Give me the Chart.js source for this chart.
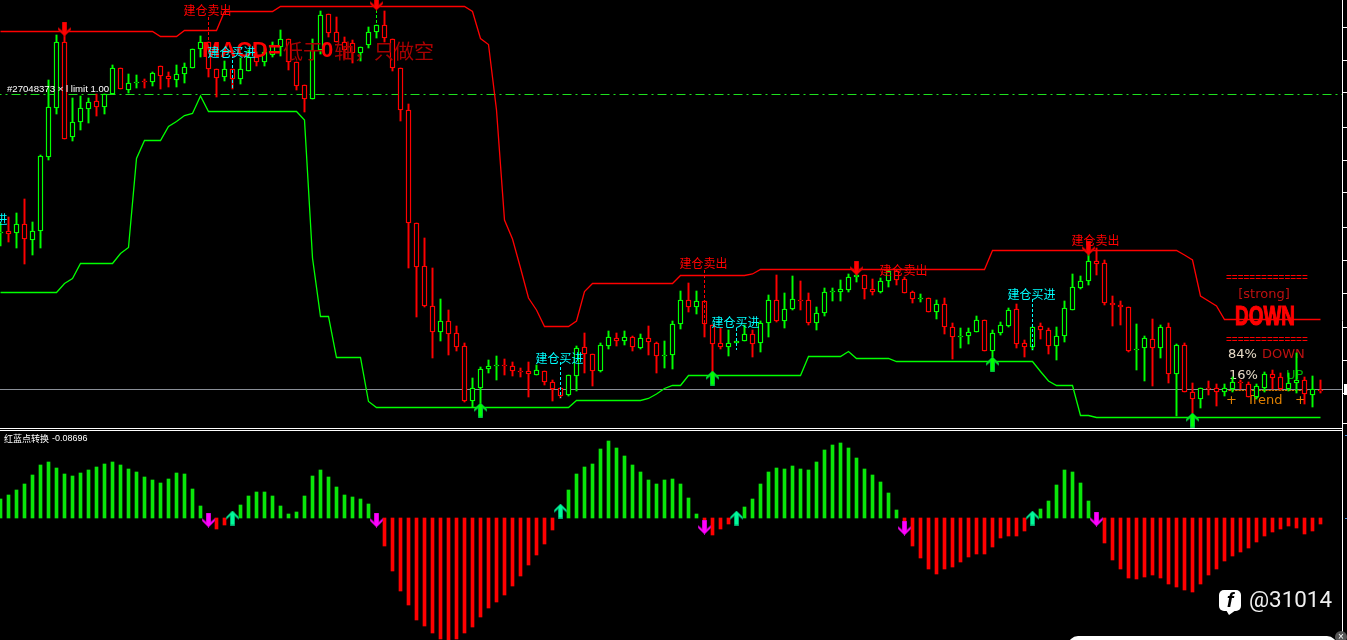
<!DOCTYPE html>
<html>
<head>
<meta charset="utf-8">
<title>MACD</title>
<script src="https://cdn.jsdelivr.net/npm/chart.js@4"></script>
<style>
  html, body { margin: 0; padding: 0; background: #000; overflow: hidden; }
  canvas { display: block; }
</style>
</head>
<body>
<canvas id="Chart" width="1347" height="640"></canvas>
<script>
// candles
const bars = [];
for (let n = 0; n < 166; n++) bars.push(n);

const opens = [
  197,199,197,206,190,199,273,322,388,293,
  308,321,329,323,336,362,340,347,349,348,
  364,354,350,356,362,381,388,361,353,361,
  351,359,373,368,375,383,391,368,345,331,
  380,416,398,388,387,377,385,398,405,391,
  362,320,207,164,124,98,109,97,84,29,
  42,61,64,65,64,59,59,55,59,48,
  42,35,54,83,76,59,84,92,89,93,
  82,92,87,74,75,106,130,123,129,105,
  87,83,87,89,96,87,107,130,109,121,
  130,130,107,117,138,138,140,153,155,141,
  138,149,159,151,138,131,132,118,126,103,
  93,94,98,110,79,97,104,121,87,83,
  104,100,84,94,120,142,149,169,167,127,
  125,123,80,82,91,82,103,56,85,38,
  31,42,42,38,41,48,46,33,42,56,
  53,41,47,50,35,40
];
const closes = [
  198,196,206,191,199,274,323,388,291,308,
  322,328,323,336,362,341,347,348,348,357,
  354,351,356,363,381,388,361,352,361,351,
  361,373,368,378,385,391,368,344,331,380,
  415,397,388,380,377,383,398,405,392,362,
  320,207,163,124,98,109,96,83,29,42,
  61,64,65,64,59,58,56,60,48,41,
  34,55,82,76,59,85,93,89,93,83,
  92,88,74,75,106,130,123,129,106,86,
  83,87,89,96,86,107,130,109,121,131,
  129,107,117,138,139,141,153,155,141,138,
  149,159,150,137,131,132,118,126,103,93,
  94,98,110,79,97,105,120,86,83,103,
  100,84,94,122,143,149,169,166,127,125,
  123,79,81,92,82,103,56,85,38,31,
  42,41,38,42,48,47,33,44,56,52,
  41,47,50,36,41,39
];
const highs = [
  207,213,217,231,208,275,350,395,398,332,
  334,332,336,336,365,362,356,355,351,358,
  364,358,365,367,381,394,388,361,369,361,
  372,380,378,385,388,400,391,368,345,391,
  419,416,413,393,390,383,403,405,419,391,
  362,326,207,192,162,131,120,104,87,52,
  63,70,74,71,68,62,68,65,59,50,
  42,55,84,97,76,87,99,97,99,94,
  96,104,88,89,109,139,147,139,129,105,
  102,100,89,105,100,109,135,155,137,154,
  149,137,123,142,142,150,156,165,155,151,
  152,160,160,153,139,136,132,130,132,107,
  102,102,114,110,100,108,122,126,90,103,
  107,102,103,129,156,154,177,182,170,134,
  129,123,106,94,111,105,107,86,87,47,
  42,49,46,46,53,50,48,46,58,60,
  57,57,77,53,54,50
];
const lows = [
  184,188,182,166,175,182,270,316,291,289,
  300,307,314,316,336,341,337,342,342,344,
  341,343,343,347,362,373,353,333,349,341,
  346,359,364,364,373,374,360,340,318,331,
  376,393,388,372,367,369,382,392,388,359,
  309,162,113,123,72,89,75,79,28,23,
  27,57,50,55,54,53,33,55,45,29,
  32,34,39,57,44,58,81,84,85,79,
  81,75,57,62,61,101,118,116,93,58,
  81,74,87,89,73,78,93,108,102,120,
  120,105,100,114,129,129,138,148,131,135,
  137,143,145,137,127,128,118,111,96,71,
  82,86,98,79,73,95,103,82,73,80,
  91,76,70,88,120,141,145,155,125,104,
  105,78,60,49,44,72,47,14,38,17,
  22,35,24,34,38,41,33,31,38,41,
  40,39,37,26,23,37
];

// channel lines
const upperBand = [
  398.5,398.5,398.5,398.5,398.5,398.5,398.5,398.5,398.5,398.5,
  398.5,398.5,398.5,398.5,398.5,398.5,398.5,398.5,398.5,398.5,
  393.5,393.5,393.5,399.5,399.5,399.5,399.5,399.5,418.5,418.5,
  418.5,418.5,418.5,418.5,418.5,423.5,423.5,423.5,423.5,423.5,
  423.5,423.5,423.5,423.5,423.5,423.5,423.5,423.5,423.5,423.5,
  423.5,423.5,423.5,423.5,423.5,423.5,423.5,423.5,423.5,418.5,
  391.5,385.5,320,210,191,162,132,120,103.5,103.5,
  103.5,103.5,109,138.5,146.5,146.5,146.5,146.5,146.5,146.5,
  146.5,146.5,146.5,146.5,146.5,154.5,154.5,154.5,154.5,154.5,
  154.5,154.5,154.5,154.5,156,160.5,160.5,160.5,160.5,160.5,
  160.5,160.5,160.5,160.5,160.5,160.5,160.5,160.5,160.5,160.5,
  160.5,160.5,160.5,160.5,160.5,160.5,160.5,160.5,160.5,160.5,
  160.5,160.5,160.5,160.5,179.5,179.5,179.5,179.5,179.5,179.5,
  179.5,179.5,179.5,179.5,179.5,179.5,179.5,179.5,179.5,179.5,
  179.5,179.5,179.5,179.5,179.5,179.5,179.5,179.5,175,170,
  134,129,124,110.5,110.5,110.5,110.5,110.5,110.5,110.5,
  110.5,110.5,110.5,110.5,110.5,110.5
];
const lowerBand = [
  137.5,137.5,137.5,137.5,137.5,137.5,137.5,137.5,146.5,151.5,
  166.5,166.5,166.5,166.5,166.5,176.5,182.5,271.5,289.5,289.5,
  289.5,303.5,308.5,314.5,316.5,334,318.5,318.5,318.5,318.5,
  318.5,318.5,318.5,318.5,318.5,318.5,318.5,318.5,310,172,
  113.5,113.5,72.5,72.5,72.5,72.5,28.5,22.5,22.5,22.5,
  22.5,22.5,22.5,22.5,22.5,22.5,22.5,22.5,22.5,22.5,
  22.5,22.5,22.5,22.5,22.5,22.5,22.5,22.5,22.5,22.5,
  22.5,22.5,29.5,29.5,29.5,29.5,29.5,29.5,29.5,29.5,
  29.5,31.5,36,41.5,44.5,44.5,54.5,54.5,54.5,54.5,
  54.5,54.5,54.5,54.5,54.5,54.5,54.5,54.5,54.5,54.5,
  54.5,73.5,73.5,73.5,73.5,73.5,78.5,71.5,71.5,71.5,
  71.5,71.5,68.5,68.5,68.5,68.5,68.5,68.5,68.5,68.5,
  68.5,68.5,68.5,68.5,68.5,68.5,68.5,68.5,68.5,68.5,
  58.5,49,44.5,44.5,44.5,14.5,14.5,12.5,12.5,12.5,
  12.5,12.5,12.5,12.5,12.5,12.5,12.5,12.5,12.5,12.5,
  12.5,12.5,12.5,12.5,12.5,12.5,12.5,12.5,12.5,12.5,
  12.5,12.5,12.5,12.5,12.5,12.5
];

// lower pane histogram
const histogram = [
  19,23,28,34,43,53,56,50,44,42,
  45,48,51,54,56,53,49,46,41,38,
  35,39,45,44,29,12,-3,-11,-7,6,
  13,22,26,26,22,12,4,6,22,42,
  48,41,31,23,21,19,14,-3,-28,-53,
  -73,-87,-102,-108,-115,-121,-125,-121,-115,-109,
  -99,-90,-84,-77,-68,-58,-47,-37,-26,-12,
  3,28,44,51,54,69,77,70,62,53,
  46,38,34,38,39,34,20,4,-3,-17,
  -11,-6,3,11,19,34,46,50,49,52,
  49,48,56,68,73,75,70,60,49,43,
  36,25,8,-3,-28,-40,-51,-56,-51,-49,
  -44,-39,-36,-36,-29,-20,-18,-18,-13,2,
  9,17,33,48,46,35,17,-3,-25,-42,
  -51,-60,-61,-59,-57,-60,-66,-69,-72,-74,
  -66,-57,-51,-43,-38,-34,-30,-24,-18,-14,
  -11,-8,-10,-16,-13,-6
];

// levels and ticks of the price pane
const orderLevel = 335.5;
const bidLevel = 40.5;
const paneEdges = [1.5, -0.5];
const priceTicks = [403,370,337,303,270,237,203,170,137,103,70,37,7];

// arrows
const sellBars = [8,47,107,136];
const sellPrices = [401,427,162,182];
const buyBars = [60,89,124,149];
const buyPrices = [20,52,66,10];
const turnDownBars = [26,47,88,113,137];
const turnDownValues = [-2,-2,-9,-10,-1];
const turnUpBars = [29,70,92,129];
const turnUpValues = [0,7,0,0];

// dashed signal connectors
const signalBars = [26,29,47,70,88,92,129];
const signalTops = [413,375,420,68,160,102,131];
const signalBottoms = [388,342,405,32,106,80,80];
const signalColors = ['#ff0000','#00ffff','#00ff00','#00ffff','#ff0000','#00ffff','#00ffff'];

// signal labels
const labelBars = [-2,26,29,70,88,92,113,129,137];
const labelPrices = [211,419.5,378,72,167,107.5,159.5,136,189.5];
const labelTexts = ['建仓买进','建仓卖出','建仓买进','建仓买进','建仓卖出','建仓买进','建仓卖出','建仓买进','建仓卖出'];
const labelColors = ['#00ffff','#ff0000','#00ffff','#00ffff','#ff0000','#00ffff','#ff0000','#00ffff','#ff0000'];

const CJK = '"Noto Sans CJK SC"';

function makeArrow(up, fill, edge) {
  const c = document.createElement('canvas');
  c.width = 13;
  c.height = 15;
  const g = c.getContext('2d');
  g.translate(6.5, 7.5);
  if (!up) g.scale(1, -1);
  g.beginPath();
  g.moveTo(0, -7);
  g.lineTo(6, -1);
  g.lineTo(6, 1);
  g.lineTo(2, -2.5);
  g.lineTo(2, 7);
  g.lineTo(-2, 7);
  g.lineTo(-2, -2.5);
  g.lineTo(-6, 1);
  g.lineTo(-6, -1);
  g.closePath();
  g.fillStyle = fill;
  g.fill();
  g.strokeStyle = edge;
  g.lineWidth = 1;
  g.stroke();
  return c;
}

function pts(xs, ys) {
  return xs.map((x, n) => ({ x: x, y: ys[n] }));
}

function arrowSet(xs, ys, axis, sprite) {
  return {
    type: 'line', data: pts(xs, ys), yAxisID: axis, showLine: false,
    pointStyle: sprite, pointRadius: 7, order: 0
  };
}

function levelSet(v, color, dash) {
  return {
    type: 'line', data: [{ x: -1, y: v }, { x: 170, y: v }], yAxisID: 'y',
    borderColor: color, borderWidth: 1, borderDash: dash || [], pointRadius: 0, order: 9
  };
}

const candleColor = ctx => closes[ctx.dataIndex] >= opens[ctx.dataIndex] ? '#00ff00' : '#ff0000';

const datasets = [
  {
    type: 'bar', data: bars.map(n => [lows[n], highs[n]]), yAxisID: 'y', grouped: false,
    barThickness: 1.3, backgroundColor: candleColor, borderWidth: 0, order: 6
  },
  {
    type: 'bar', data: bars.map(n => [opens[n], closes[n]]), yAxisID: 'y', grouped: false,
    barThickness: 5, backgroundColor: '#000', borderColor: candleColor,
    borderWidth: 1.4, borderSkipped: false, order: 5
  },
  {
    type: 'bar', data: histogram, yAxisID: 'y2', grouped: false, barThickness: 3,
    backgroundColor: ctx => histogram[ctx.dataIndex] >= 0 ? '#0ae60a' : '#ff0000', order: 5
  },
  { type: 'line', data: upperBand, yAxisID: 'y', borderColor: '#ff0000', borderWidth: 1.3, pointRadius: 0, tension: 0, order: 3 },
  { type: 'line', data: lowerBand, yAxisID: 'y', borderColor: '#00ff00', borderWidth: 1.3, pointRadius: 0, tension: 0, order: 3 },
  levelSet(orderLevel, '#1ee01e', [9, 4, 2, 4]),
  levelSet(bidLevel, '#8a8f98'),
  levelSet(paneEdges[0], '#ffffff'),
  levelSet(paneEdges[1], '#ffffff'),
  arrowSet(sellBars, sellPrices, 'y', makeArrow(false, '#ff0000', '#d00000')),
  arrowSet(buyBars, buyPrices, 'y', makeArrow(true, '#00ff00', '#00c040')),
  arrowSet(turnDownBars, turnDownValues, 'y2', makeArrow(false, '#ff00ff', '#d000d0')),
  arrowSet(turnUpBars, turnUpValues, 'y2', makeArrow(true, '#00fa9a', '#00b070'))
];

signalBars.forEach((b, n) => {
  datasets.push({
    type: 'line', data: [{ x: b, y: signalTops[n] }, { x: b, y: signalBottoms[n] }], yAxisID: 'y',
    borderColor: signalColors[n], borderWidth: 1, borderDash: [3, 2], pointRadius: 0, order: 2
  });
});

function put(c, text, x, y, font, color, align) {
  c.font = font;
  c.fillStyle = color;
  c.textAlign = align || 'left';
  c.textBaseline = 'middle';
  c.fillText(text, x, y);
}

const overlay = {
  id: 'overlay',
  beforeDatasetsDraw(chart) {
    const c = chart.ctx;
    c.save();
    const rule = '==============';
    put(c, rule, 1226, 278, '10px "Liberation Sans"', '#ff0000');
    put(c, rule, 1226, 340, '10px "Liberation Sans"', '#ff0000');
    put(c, '[strong]', 1264, 295, '13px "DejaVu Sans"', '#c01010', 'center');
    put(c, '84%', 1228, 355, '13px "DejaVu Sans"', '#e8dcc8');
    put(c, 'DOWN', 1262, 355, '13px "DejaVu Sans"', '#c01010');
    put(c, '16%', 1229, 376, '13px "DejaVu Sans"', '#e8dcc8');
    put(c, 'UP', 1286, 376, '13px "DejaVu Sans"', '#00b000');
    put(c, '------------------------', 1228, 390, '10px "Liberation Sans"', '#e08000');
    put(c, '+', 1226, 401, '13px "DejaVu Sans"', '#e08000');
    put(c, 'Trend', 1247, 401, '13px "DejaVu Sans"', '#e08000');
    put(c, '+', 1295, 401, '13px "DejaVu Sans"', '#e08000');
    c.restore();
  },
  afterDatasetsDraw(chart) {
    const c = chart.ctx;
    const sx = chart.scales.x;
    const sy = chart.scales.y;
    c.save();
    put(c, 'MACD=', 202, 51, 'bold 22px "Liberation Sans"', '#ff0000');
    put(c, '低于', 283, 51, '20px ' + CJK, '#a80000');
    put(c, '0', 321, 51, 'bold 22px "Liberation Sans"', '#ff0000');
    put(c, '轴，', 334, 51, '20px ' + CJK, '#a80000');
    put(c, '只做空', 374, 51, '20px ' + CJK, '#a80000');

    labelBars.forEach((b, n) => {
      put(c, labelTexts[n], sx.getPixelForValue(b) - 1, sy.getPixelForValue(labelPrices[n]), '12px ' + CJK, labelColors[n], 'center');
    });
    // squeezed heavy DOWN
    c.save();
    c.translate(1265, 318);
    c.scale(0.7, 1);
    put(c, 'DOWN', 0, 0, 'bold 27px "Liberation Sans"', '#ff0000', 'center');
    c.strokeStyle = '#ff0000';
    c.lineWidth = 1.2;
    c.strokeText('DOWN', 0, 0);
    c.restore();
    put(c, '#27048373 × l limit 1.00', 7, 89, '9.6px "Liberation Sans"', '#ffffff');
    put(c, '红蓝点转换', 4, 439, '9px ' + CJK, '#ffffff');
    put(c, '-0.08696', 52, 439, '9px "Liberation Sans"', '#ffffff');

    // price box and lower pane ticks
    c.fillStyle = '#ffffff';
    c.fillRect(1344, 384, 3, 11);
    c.fillStyle = '#4a90d9';
    c.fillRect(1345, 435, 2, 1);
    c.fillRect(1345, 518, 2, 1);

    // watermark
    c.fillStyle = '#ffffff';
    c.beginPath();
    c.roundRect(1219, 590, 22, 21, 5);
    c.fill();
    c.beginPath();
    c.moveTo(1226, 610);
    c.lineTo(1229, 615);
    c.lineTo(1236, 610);
    c.fill();
    put(c, 'f', 1230, 601, 'italic bold 20px "Liberation Sans"', '#000000', 'center');
    put(c, '@31014', 1249, 601, '22.4px Roboto', '#f0f0f0');

    // player bar clipped by the window
    c.fillStyle = '#ffffff';
    c.beginPath();
    c.roundRect(1068, 636, 269, 20, 10);
    c.fill();
    c.fillStyle = '#555555';
    c.beginPath();
    c.arc(1341, 637, 6, 0, Math.PI * 2);
    c.fill();
    put(c, '×', 1341, 637, '10px "Liberation Sans"', '#ffffff', 'center');
    c.restore();
  }
};

new Chart(document.getElementById('Chart'), {
  type: 'bar',
  data: { labels: bars, datasets: datasets },
  options: {
    responsive: false,
    animation: false,
    layout: { padding: 0, autoPadding: false },
    plugins: { legend: { display: false }, tooltip: { enabled: false } },
    scales: {
      x: { type: 'linear', display: false, offset: false, min: -0.0625, max: 167.6875 },
      y: {
        position: 'right', min: -210, max: 430,
        afterFit(s) { s.width = 5; },
        afterBuildTicks(s) { s.ticks = priceTicks.map(v => ({ value: v })); },
        ticks: { display: false, autoSkip: false },
        border: { display: true, color: '#ffffff' },
        grid: { drawOnChartArea: false, drawTicks: true, tickLength: 5, color: '#ffffff' }
      },
      y2: { display: false, min: -122, max: 518 }
    }
  },
  plugins: [overlay]
});
</script>
</body>
</html>
